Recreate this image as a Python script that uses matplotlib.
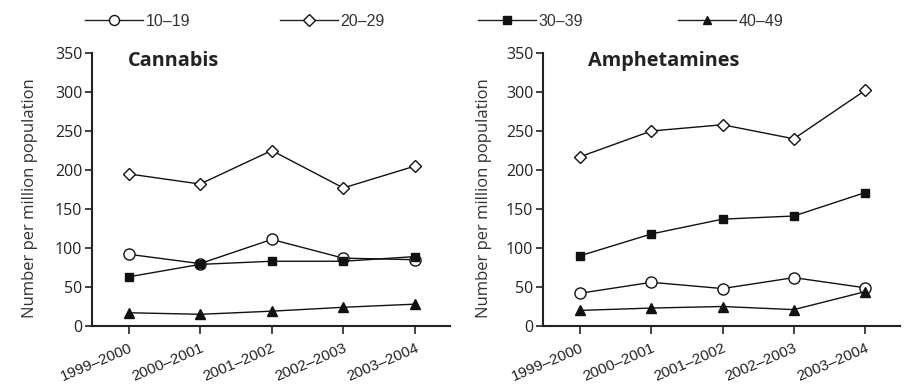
import matplotlib
matplotlib.use("Agg")
import matplotlib.pyplot as plt
from matplotlib.lines import Line2D
from matplotlib.transforms import ScaledTranslation

periods = ["1999\u20132000", "2000\u20132001", "2001\u20132002", "2002\u20132003", "2003\u20132004"]
age_groups = ["10\u201319", "20\u201329", "30\u201339", "40\u201349"]

cannabis_10_19 = [92, 80, 111, 87, 85]
cannabis_20_29 = [195, 182, 225, 177, 205]
cannabis_30_39 = [63, 79, 83, 83, 89]
cannabis_40_49 = [17, 15, 19, 24, 28]

amph_10_19 = [42, 56, 48, 62, 49]
amph_20_29 = [217, 250, 258, 240, 302]
amph_30_39 = [90, 118, 137, 141, 171]
amph_40_49 = [20, 23, 25, 21, 44]

yticks = [0, 50, 100, 150, 200, 250, 300, 350]

plt.rcParams['font.family'] = ['Open Sans', 'DejaVu Sans']
small_font = ['Liberation Sans', 'DejaVu Sans']

styles = [
    dict(marker='o', markerfacecolor='white', markersize=8),
    dict(marker='D', markerfacecolor='white', markersize=6.5),
    dict(marker='s', markerfacecolor='#111111', markersize=6),
    dict(marker='^', markerfacecolor='#111111', markersize=7),
]

W, H = 906, 384
fig = plt.figure(figsize=(W / 100, H / 100), dpi=100)
ax1 = fig.add_axes([92 / W, 1 - 326 / H, (450 - 92) / W, (326 - 53) / H])
ax2 = fig.add_axes([543 / W, 1 - 326 / H, (900 - 543) / W, (326 - 53) / H])

panels = [
    (ax1, "Cannabis", [cannabis_10_19, cannabis_20_29, cannabis_30_39, cannabis_40_49],
     (-0.51, 4.49), 0.10, -0.152),
    (ax2, "Amphetamines", [amph_10_19, amph_20_29, amph_30_39, amph_40_49],
     (-0.52, 4.49), 0.127, -0.143),
]

shift = ScaledTranslation(3 / 100, 0, fig.dpi_scale_trans)

x = list(range(len(periods)))
for ax, title, series, xl, tx, lx in panels:
    for vals, st, lab in zip(series, styles, age_groups):
        ax.plot(x, vals, color='#111111', linewidth=1.0, markeredgecolor='#111111',
                markeredgewidth=1.0, label=lab, clip_on=False, zorder=3, **st)
    ax.set_xlim(*xl)
    ax.set_ylim(0, 350)
    ax.set_yticks(yticks)
    ax.set_xticks(x)
    ax.set_xticklabels(periods, rotation=23, ha='right', rotation_mode='anchor',
                       fontsize=11, color='#222222', family=small_font)
    for lbl in ax.get_xticklabels():
        lbl.set_transform(lbl.get_transform() + shift)
    ax.tick_params(axis='y', labelsize=11.5, colors='#222222', length=5, width=1.2, pad=2)
    ax.tick_params(axis='x', length=6, width=1.2, pad=4.5, colors='#222222')
    for side in ['top', 'right']:
        ax.spines[side].set_visible(False)
    for side in ['left', 'bottom']:
        ax.spines[side].set_linewidth(1.5)
        ax.spines[side].set_color('#222222')
    ax.set_ylabel("Number per million population", fontsize=12, color='#333333')
    ax.yaxis.set_label_coords(lx, 0.467)
    ax.text(tx, 0.969, title, transform=ax.transAxes, fontsize=14.3, fontweight='bold',
            va='center', ha='left', color='#222222')

legend_x = [85, 280, 478, 678]
for st, lab, lxp in zip(styles, age_groups, legend_x):
    st2 = dict(st)
    st2['markersize'] = st['markersize'] * 0.9
    h = Line2D([], [], color='#222222', linewidth=1.0, markeredgecolor='#111111',
               markeredgewidth=1.0, **st2)
    fig.legend([h], [lab], loc='center left', bbox_to_anchor=(lxp / W, 1 - 21 / H),
               frameon=False, borderpad=0, borderaxespad=0, handlelength=3.6,
               handletextpad=0.2, labelcolor='#333333',
               prop={'family': small_font, 'size': 11.5})

fig.savefig("out.png", dpi=100)
